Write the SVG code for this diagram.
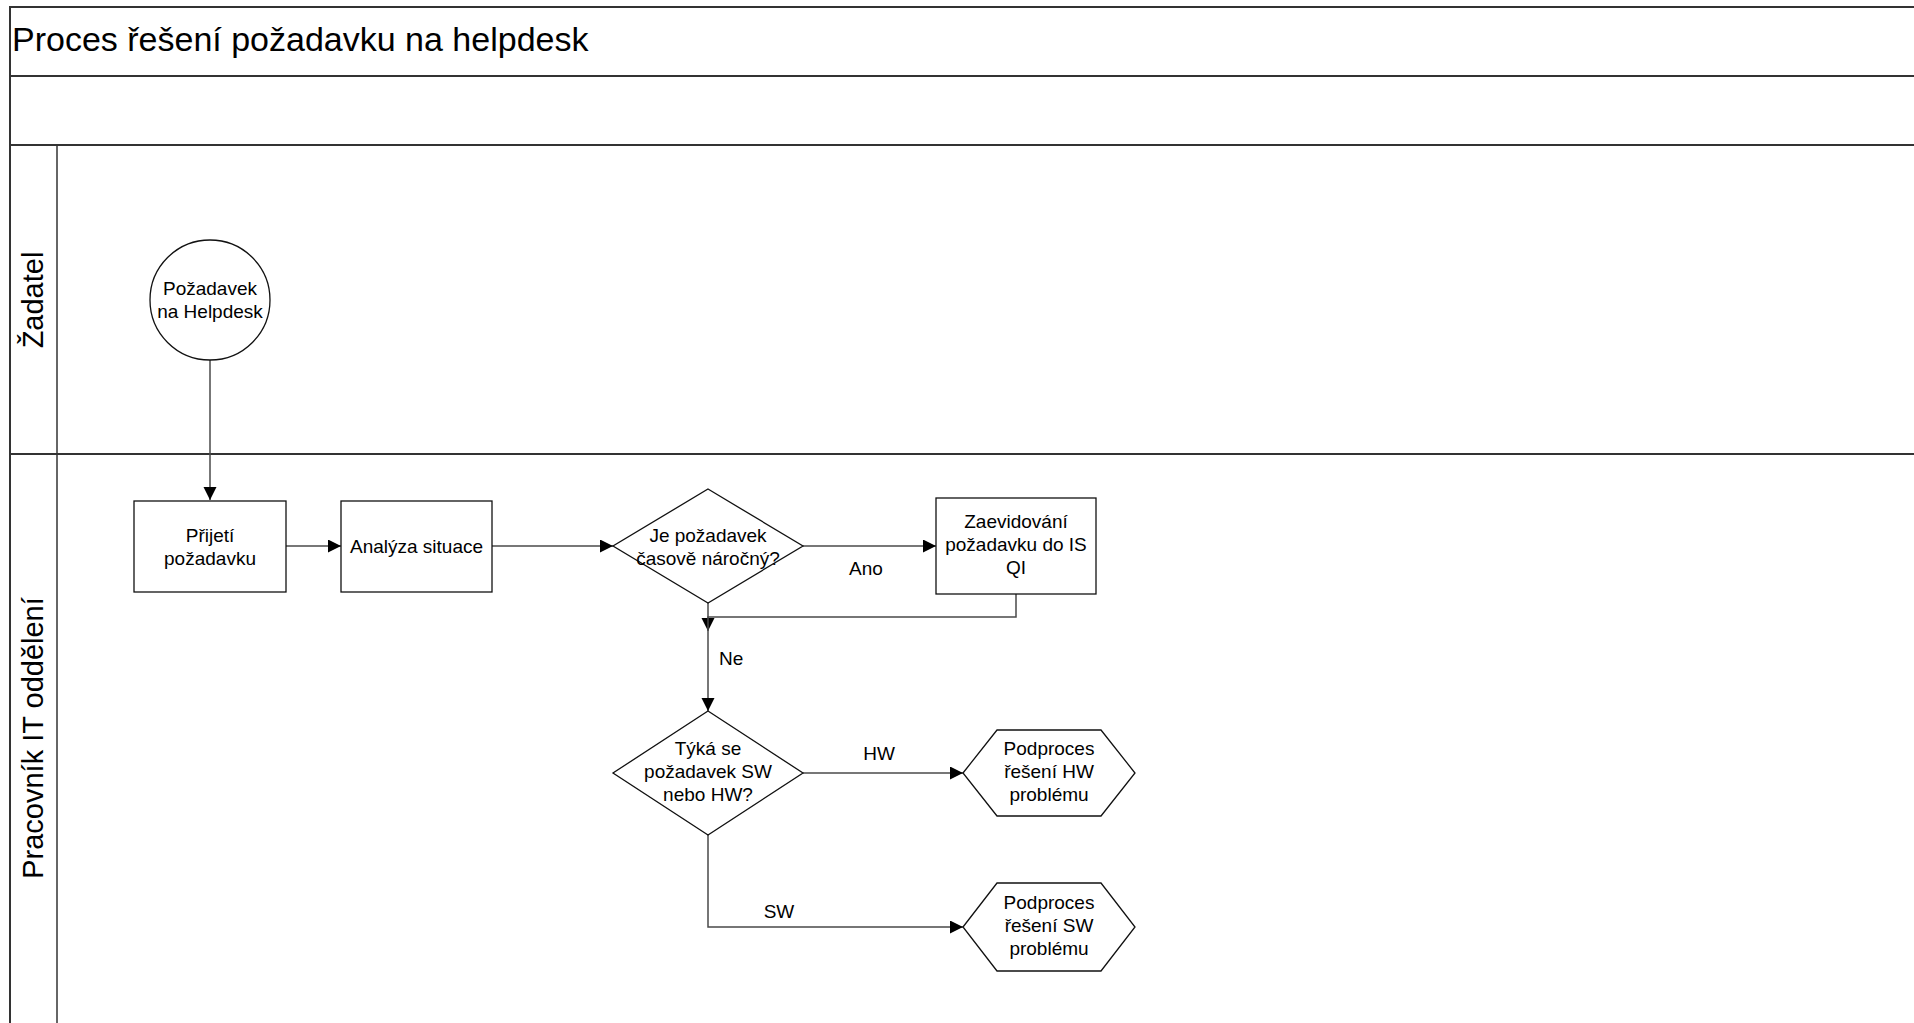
<svg xmlns="http://www.w3.org/2000/svg" width="1914" height="1023" viewBox="0 0 1914 1023">
  <defs>
    <style>
      .frame{fill:none;stroke:#333;stroke-width:2}
      .shape{fill:#fff;stroke:#111;stroke-width:1.3}
      .conn{fill:none;stroke:#4a4a4a;stroke-width:1.5}
      text{font-family:"Liberation Sans",Arial,sans-serif;fill:#000}
      .t{font-size:19px;text-anchor:middle}
      .lbl{font-size:19px}
      .lane{font-size:29px;text-anchor:middle}
      .title{font-size:34px}
    </style>
    <marker id="arrow" markerUnits="userSpaceOnUse" markerWidth="14" markerHeight="14" refX="13" refY="6.5" orient="auto">
      <path d="M0,0 L13,6.5 L0,13 Z" fill="#000"/>
    </marker>
  </defs>

  <rect x="0" y="0" width="1914" height="1023" fill="#fff"/>

  <!-- pool frame, title band and swimlanes -->
  <g id="pool">
    <path class="frame" d="M1920,7 H10 V1030"/>
    <path class="frame" d="M10,76 H1920"/>
    <path class="frame" d="M10,145 H1920"/>
    <path class="frame" d="M10,454 H1920"/>
    <path class="frame" d="M57,145 V1030" style="stroke-width:1.5"/>
    <text class="title" x="12" y="51">Proces řešení požadavku na helpdesk</text>
  </g>

  <g id="lane-zadatel">
    <text class="lane" transform="translate(43,300) rotate(-90)">Žadatel</text>
  </g>
  <g id="lane-it">
    <text class="lane" transform="translate(43,738) rotate(-90)">Pracovník IT oddělení</text>
  </g>

  <!-- connectors -->
  <g id="connectors">
    <path class="conn" d="M210,360 V500" marker-end="url(#arrow)"/>
    <path class="conn" d="M286,546 H341" marker-end="url(#arrow)"/>
    <path class="conn" d="M492,546 H613" marker-end="url(#arrow)"/>
    <path class="conn" d="M803,546 H936" marker-end="url(#arrow)"/>
    <path class="conn" d="M1016,594 V617 H708 V631" marker-end="url(#arrow)"/>
    <path class="conn" d="M708,603 V711" marker-end="url(#arrow)"/>
    <path class="conn" d="M803,773 H963" marker-end="url(#arrow)"/>
    <path class="conn" d="M708,835 V927 H963" marker-end="url(#arrow)"/>
    <text class="lbl" x="866" y="575" text-anchor="middle">Ano</text>
    <text class="lbl" x="719" y="665">Ne</text>
    <text class="lbl" x="879" y="760" text-anchor="middle">HW</text>
    <text class="lbl" x="779" y="918" text-anchor="middle">SW</text>
  </g>

  <!-- nodes -->
  <g id="start">
    <circle class="shape" cx="210" cy="300" r="60"/>
    <text class="t" x="210" y="295">Požadavek</text>
    <text class="t" x="210" y="318">na Helpdesk</text>
  </g>

  <g id="prijeti">
    <rect class="shape" x="134" y="501" width="152" height="91"/>
    <text class="t" x="210" y="542">Přijetí</text>
    <text class="t" x="210" y="565">požadavku</text>
  </g>

  <g id="analyza">
    <rect class="shape" x="341" y="501" width="151" height="91"/>
    <text class="t" x="416.5" y="553">Analýza situace</text>
  </g>

  <g id="rozhodnuti-narocnost">
    <polygon class="shape" points="708,489 803,546 708,603 613,546"/>
    <text class="t" x="708" y="542">Je požadavek</text>
    <text class="t" x="708" y="565">časově náročný?</text>
  </g>

  <g id="zaevidovani">
    <rect class="shape" x="936" y="498" width="160" height="96"/>
    <text class="t" x="1016" y="528">Zaevidování</text>
    <text class="t" x="1016" y="551">požadavku do IS</text>
    <text class="t" x="1016" y="574">QI</text>
  </g>

  <g id="rozhodnuti-typ">
    <polygon class="shape" points="708,711 803,773 708,835 613,773"/>
    <text class="t" x="708" y="755">Týká se</text>
    <text class="t" x="708" y="778">požadavek SW</text>
    <text class="t" x="708" y="801">nebo HW?</text>
  </g>

  <g id="podproces-hw">
    <polygon class="shape" points="963,773 997,730 1101,730 1135,773 1101,816 997,816"/>
    <text class="t" x="1049" y="755">Podproces</text>
    <text class="t" x="1049" y="778">řešení HW</text>
    <text class="t" x="1049" y="801">problému</text>
  </g>

  <g id="podproces-sw">
    <polygon class="shape" points="963,927 997,883 1101,883 1135,927 1101,971 997,971"/>
    <text class="t" x="1049" y="909">Podproces</text>
    <text class="t" x="1049" y="932">řešení SW</text>
    <text class="t" x="1049" y="955">problému</text>
  </g>
</svg>
